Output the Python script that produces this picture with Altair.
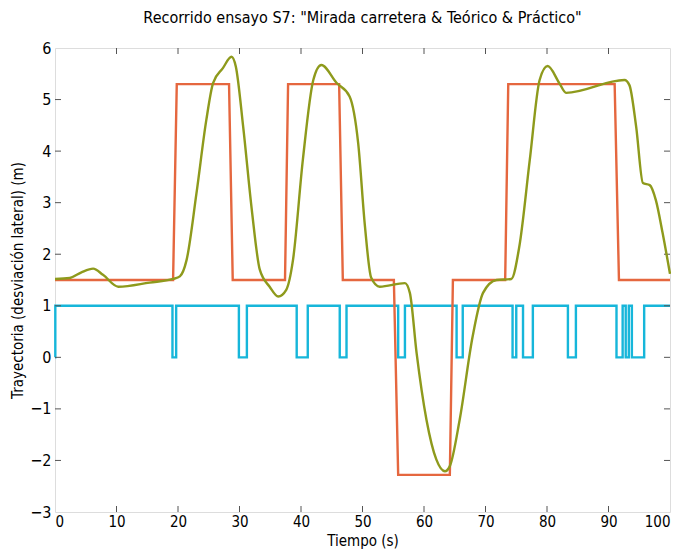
import altair as alt
import pandas as pd

# --- data ---
# "Mirada carretera" (binary, step signal): change times and values (step-after)
t_mirada = [0, 0.05, 19.1, 19.7, 29.9, 31.2, 39.3, 41.1, 46.3, 47.4, 55.8, 56.9,
            65.3, 66.3, 74.4, 75.0, 76.1, 77.7, 83.4, 84.7, 91.3, 92.3, 92.8, 93.3,
            93.8, 95.8, 100]
v_mirada = [0, 1, 0, 1, 0, 1, 0, 1, 0, 1, 0, 1,
            0, 1, 0, 1, 0, 1, 0, 1, 0, 1, 0, 1,
            0, 1, 1]

# "Teórico" (theoretical trajectory)
t_teorico = [0, 19.2, 19.8, 28.3, 28.9, 37.4, 37.9, 46.2, 46.8, 55.1, 55.8,
             64.2, 64.7, 73.2, 73.7, 91.0, 91.7, 100]
v_teorico = [1.5, 1.5, 5.3, 5.3, 1.5, 1.5, 5.3, 5.3, 1.5, 1.5, -2.28,
             -2.28, 1.5, 1.5, 5.3, 5.3, 1.5, 1.5]

# "Práctico" (measured trajectory)
t_practico = [0.0, 2.4, 4.3, 6.2, 7.8, 10.3, 15.4, 19.2, 20.3, 21.4, 23.0, 24.6,
              25.7, 27.3, 28.7, 29.4, 30.6, 32.0, 33.3, 34.9, 36.3, 37.6, 38.7,
              40.3, 42.0, 43.3, 45.8, 47.9, 49.3, 50.4, 51.4, 52.8, 56.9, 57.7,
              58.8, 60.4, 62.0, 63.4, 64.2, 65.8, 67.9, 69.6, 71.8, 74.2, 75.5,
              77.2, 78.8, 80.1, 82.0, 83.1, 92.6, 93.4, 94.5, 95.6, 96.7, 97.7,
              98.8, 100.0]
v_practico = [1.52, 1.54, 1.65, 1.72, 1.60, 1.37, 1.45, 1.52, 1.57, 1.89, 3.18, 4.60,
              5.32, 5.61, 5.83, 5.64, 4.47, 2.86, 1.70, 1.37, 1.18, 1.31, 1.89,
              3.83, 5.38, 5.67, 5.32, 5.06, 4.15, 2.54, 1.55, 1.37, 1.44, 1.25,
              0.08, -1.21, -1.98, -2.21, -2.11, -1.21, 0.40, 1.25, 1.50, 1.52, 2.15,
              3.83, 5.38, 5.65, 5.32, 5.13, 5.38, 5.28, 4.47, 3.38, 3.34, 3.05,
              2.41, 1.62]

x_ticks = [0, 10, 20, 30, 40, 50, 60, 70, 80, 90, 100]
y_ticks = [-3, -2, -1, 0, 1, 2, 3, 4, 5, 6]

# --- build ---
FONT = "DejaVu Sans Condensed, Liberation Sans, sans-serif"
W, H = 615, 464

xs = alt.Scale(domain=[0, 100], nice=False, zero=False)
ys = alt.Scale(domain=[-3, 6], nice=False, zero=False)

x_axis = alt.Axis(values=x_ticks, title="Tiempo (s)", grid=False, ticks=False,
                  domain=False, labelFont=FONT, labelFontSize=15, labelColor="black",
                  labelPadding=2, titleFont=FONT, titleFontSize=15,
                  titleFontWeight="normal", titleColor="black", titlePadding=4)
y_axis = alt.Axis(values=y_ticks, title="Trayectoria (desviación lateral) (m)",
                  grid=False, ticks=False, domain=False, labelFont=FONT,
                  labelFontSize=16, labelColor="black", labelPadding=4,
                  titleFont=FONT, titleFontSize=15, titleFontWeight="normal",
                  titleColor="black", titlePadding=4)

df_m = pd.DataFrame({"t": t_mirada, "v": v_mirada})
df_t = pd.DataFrame({"t": t_teorico, "v": v_teorico})
df_p = pd.DataFrame({"t": t_practico, "v": v_practico})
df_xt = pd.DataFrame({"t": x_ticks[1:-1]})
df_yt = pd.DataFrame({"v": y_ticks[1:-1]})

mirada = alt.Chart(df_m).mark_line(interpolate="step-after", color="#16B6DA",
                                   strokeWidth=2.4).encode(
    x=alt.X("t:Q", scale=xs, axis=x_axis),
    y=alt.Y("v:Q", scale=ys, axis=y_axis),
)
teorico = alt.Chart(df_t).mark_line(color="#E5673F", strokeWidth=2.4).encode(
    x=alt.X("t:Q", scale=xs),
    y=alt.Y("v:Q", scale=ys),
)
practico = alt.Chart(df_p).mark_line(color="#8E9A1C", strokeWidth=2.4,
                                     interpolate="monotone").encode(
    x=alt.X("t:Q", scale=xs),
    y=alt.Y("v:Q", scale=ys),
)

tick_col = "#555555"
xt_bottom = alt.Chart(df_xt).mark_rule(color=tick_col, strokeWidth=1).encode(
    x=alt.X("t:Q", scale=xs), y=alt.value(H), y2=alt.value(H - 6))
xt_top = alt.Chart(df_xt).mark_rule(color=tick_col, strokeWidth=1).encode(
    x=alt.X("t:Q", scale=xs), y=alt.value(0), y2=alt.value(6))
yt_left = alt.Chart(df_yt).mark_rule(color=tick_col, strokeWidth=1).encode(
    y=alt.Y("v:Q", scale=ys), x=alt.value(0), x2=alt.value(6))
yt_right = alt.Chart(df_yt).mark_rule(color=tick_col, strokeWidth=1).encode(
    y=alt.Y("v:Q", scale=ys), x=alt.value(W), x2=alt.value(W - 6))

chart = alt.layer(mirada, xt_bottom, xt_top, yt_left, yt_right, teorico, practico).properties(
    width=W, height=H,
    title=alt.TitleParams(
        'Recorrido ensayo S7: "Mirada carretera & Teórico & Práctico"',
        font=FONT, fontSize=16, fontWeight="normal", color="black",
        anchor="middle", offset=14),
    autosize=alt.AutoSizeParams(type="none"),
    padding={"left": 47, "top": 40, "right": 1, "bottom": 40},
).configure_view(stroke="black", strokeWidth=1.2).configure(background="white")

chart.save("out.html", embed_options={"renderer": "svg", "actions": False})
